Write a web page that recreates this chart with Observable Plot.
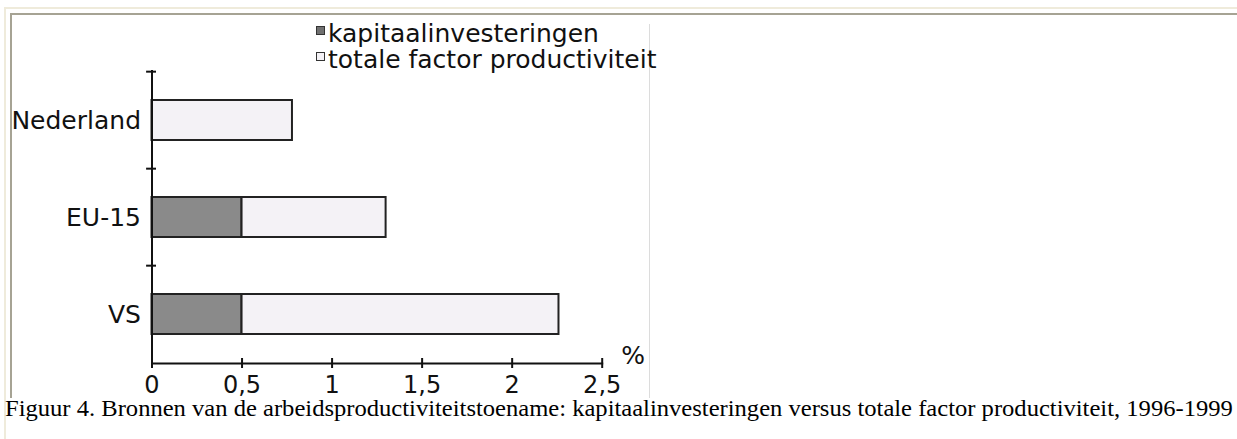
<!DOCTYPE html>
<html>
<head>
<meta charset="utf-8">
<script src="https://cdn.jsdelivr.net/npm/d3@7"></script>
<script src="https://cdn.jsdelivr.net/npm/@observablehq/plot@0.6"></script>
<style>
  html, body { margin: 0; padding: 0; background: #fff; overflow: hidden; width: 1237px; height: 439px; }
  #wrap { position: relative; width: 1237px; height: 439px; overflow: hidden; }
  .line { position: absolute; }
  #chart { position: absolute; left: 0; top: 0; }
  #legend { position: absolute; left: 316px; top: 21px; font-family: "DejaVu Sans", sans-serif; font-size: 25px; line-height: 26px; color: #111; }
  #legend .item { display: flex; align-items: center; white-space: nowrap; height: 26px; }
  #legend .sw { width: 7px; height: 7px; border: 1.5px solid #333; margin-right: 3px; margin-top: -8px; }
  #caption { position: absolute; left: 5px; top: 402px; font-family: "Liberation Serif", "Times New Roman", serif; font-size: 24px; line-height: 12px; white-space: nowrap; color: #000; transform-origin: left top; transform: scaleX(1.024); }
</style>
</head>
<body>
<div id="wrap">
  <div class="line" style="left:4px;top:7px;width:1233px;height:2px;background:#efebdb"></div>
  <div class="line" style="left:4px;top:7px;width:2px;height:432px;background:#efebdb"></div>
  <div class="line" style="left:10px;top:13px;width:1227px;height:2px;background:#a6a394"></div>
  <div class="line" style="left:10px;top:13px;width:2px;height:385px;background:#a6a394"></div>
  <div class="line" style="left:649px;top:24px;width:1px;height:374px;background:#dcdcdc"></div>
  <div id="chart"></div>
  <div id="legend"></div>
  <div id="caption"></div>
</div>
<script>
// ---- data ----
const countries = ["Nederland", "EU-15", "VS"];
const kapitaalinvesteringen = [0, 0.5, 0.5];
const totaleFactorProductiviteit = [0.78, 0.80, 1.76];
const seriesNames = ["kapitaalinvesteringen", "totale factor productiviteit"];
const seriesColors = ["#8a8a8a", "#f4f2f6"];
const xTicks = [0, 0.5, 1, 1.5, 2, 2.5];
const unitLabel = "%";
const captionText = "Figuur 4. Bronnen van de arbeidsproductiviteitstoename: kapitaalinvesteringen versus totale factor productiviteit, 1996-1999";

// ---- table ----
const rows = [];
countries.forEach((c, i) => {
  rows.push({country: c, series: seriesNames[0], value: kapitaalinvesteringen[i]});
  rows.push({country: c, series: seriesNames[1], value: totaleFactorProductiviteit[i]});
});
const barRows = rows.filter(d => d.value > 0);

// ---- layout ----
const W = 660, H = 400;
const mTop = 70, mBottom = 37, mLeft = 151.5, mRight = 58.3;
const step = (H - mTop - mBottom) / countries.length;
const fmt = d => String(d).replace(".", ",");

const chart = Plot.plot({
  width: W,
  height: H,
  marginTop: mTop,
  marginBottom: mBottom,
  marginLeft: mLeft,
  marginRight: mRight,
  style: {fontFamily: "DejaVu Sans, sans-serif", fontSize: "25px", color: "#111", background: "transparent", overflow: "visible"},
  x: {domain: [0, 2.5], axis: null, label: null},
  y: {domain: countries, paddingInner: 0.59, paddingOuter: 0.295, axis: null, label: null},
  color: {domain: seriesNames, range: seriesColors},
  marks: [
    Plot.barX(barRows, Plot.stackX({
      y: "country", x: "value", fill: "series", z: "series", order: seriesNames,
      stroke: "#222", strokeWidth: 2
    })),
    Plot.ruleX([0], {stroke: "#111", strokeWidth: 2}),
    Plot.ruleY(countries, {y: d => d, x1: -0.03, x2: 0.025, dy: -step / 2, stroke: "#111", strokeWidth: 2}),
    Plot.frame({anchor: "bottom", stroke: "#111", strokeWidth: 2}),
    Plot.axisX({ticks: xTicks, tickSize: 10, dy: -5, tickFormat: () => "", label: null, stroke: "#111", strokeWidth: 2}),
    Plot.axisX({ticks: xTicks, tickSize: 0, tickPadding: 12, tickFormat: fmt, label: null, fill: "#111", fontSize: 24}),
    Plot.axisY({tickSize: 0, tickPadding: 11, label: null, fill: "#111"}),
    Plot.text([unitLabel], {text: d => d, frameAnchor: "bottom-right", textAnchor: "middle", lineAnchor: "middle", dx: 31, dy: -8, fill: "#111"})
  ]
});
document.getElementById("chart").appendChild(chart);

// ---- legend ----
const legend = document.getElementById("legend");
seriesNames.forEach((s, i) => {
  const it = document.createElement("div");
  it.className = "item";
  const sw = document.createElement("span");
  sw.className = "sw";
  sw.style.background = i === 0 ? "#707070" : seriesColors[i];
  const tx = document.createElement("span");
  tx.textContent = s;
  it.appendChild(sw);
  it.appendChild(tx);
  legend.appendChild(it);
});

document.getElementById("caption").textContent = captionText;
</script>
</body>
</html>
